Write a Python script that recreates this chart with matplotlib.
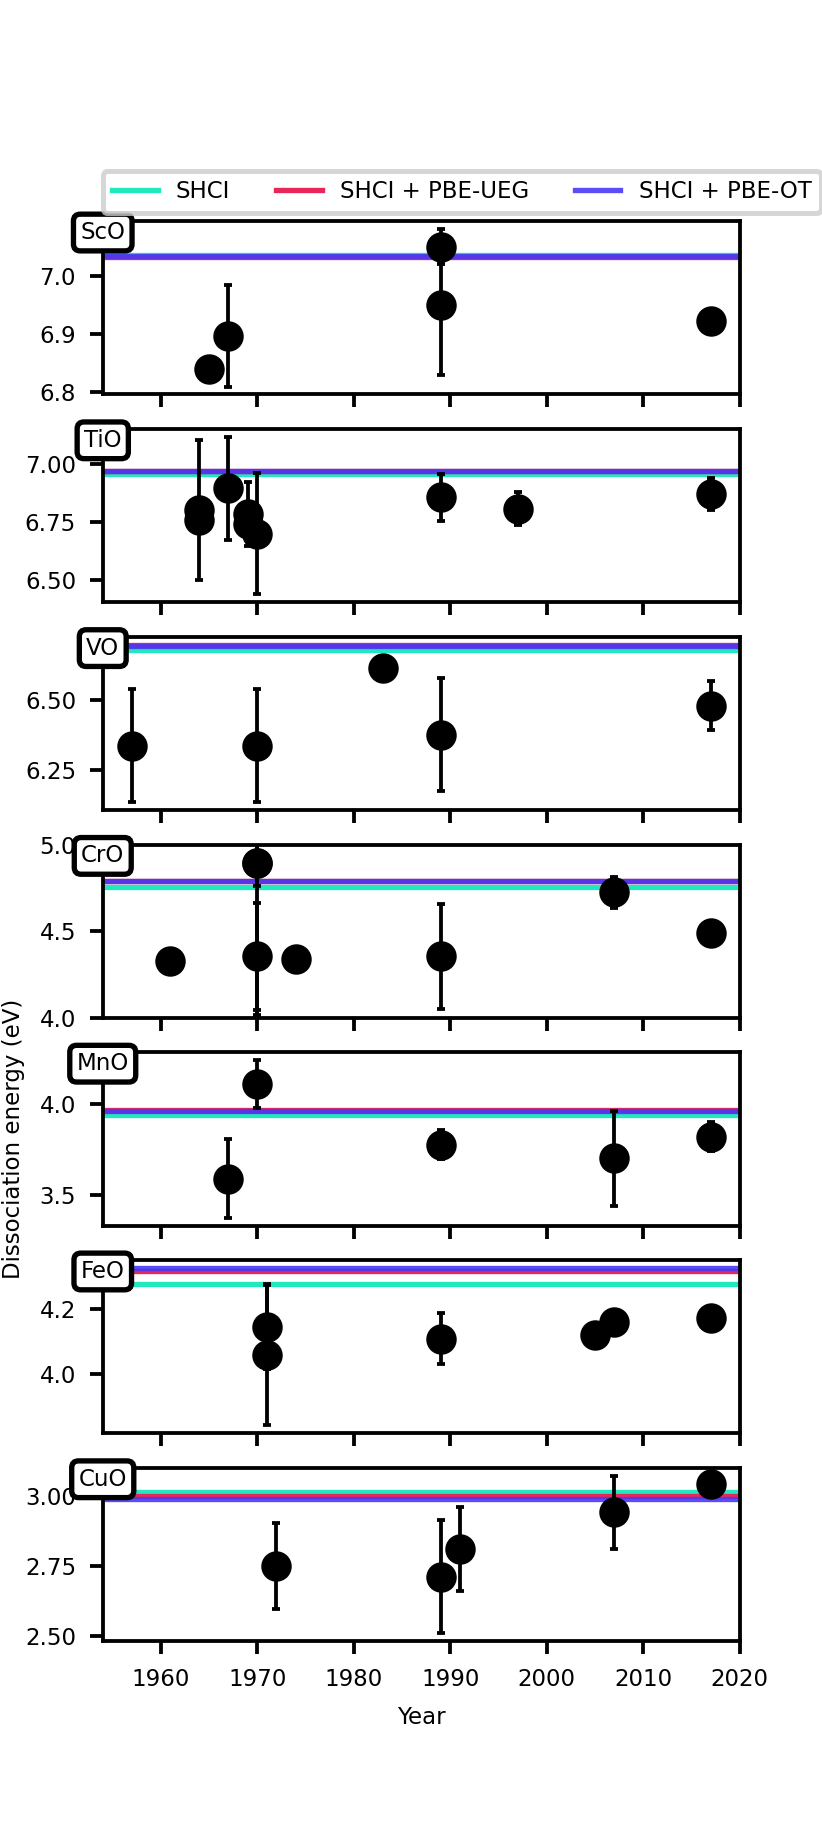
import matplotlib
matplotlib.use("Agg")
import matplotlib.pyplot as plt

# 分子ごとの実験値 (年, 解離エネルギー eV, 誤差)
molecules = ["ScO", "TiO", "VO", "CrO", "MnO", "FeO", "CuO"]

sco_year = [1965, 1967, 1989, 1989, 2017]
sco_de = [6.840, 6.897, 7.050, 6.950, 6.922]
sco_err = [0, 0.087, 0.030, 0.120, 0]

tio_year = [1964, 1964, 1967, 1969, 1969, 1970, 1989, 1997, 2017]
tio_de = [6.800, 6.757, 6.894, 6.786, 6.743, 6.700, 6.856, 6.807, 6.870]
tio_err = [0.30, 0, 0.22, 0.137, 0, 0.26, 0.10, 0.07, 0.07]

vo_year = [1957, 1970, 1983, 1989, 2017]
vo_de = [6.337, 6.337, 6.615, 6.377, 6.480]
vo_err = [0.20, 0.20, 0, 0.20, 0.087]

cro_year = [1961, 1970, 1970, 1970, 1974, 1989, 2007, 2017]
cro_de = [4.326, 4.893, 4.355, 4.893, 4.341, 4.355, 4.725, 4.491]
cro_err = [0, 0.13, 0.31, 0.877, 0, 0.305, 0.09, 0]

mno_year = [1967, 1970, 1989, 2007, 2017]
mno_de = [3.588, 4.109, 3.776, 3.699, 3.818]
mno_err = [0.216, 0.132, 0.08, 0.26, 0.08]

feo_year = [1971, 1971, 1989, 2005, 2007, 2017]
feo_de = [4.146, 4.059, 4.109, 4.121, 4.159, 4.172]
feo_err = [0.13, 0.22, 0.08, 0, 0, 0]

cuo_year = [1972, 1989, 1991, 2007, 2017]
cuo_de = [2.750, 2.712, 2.811, 2.941, 3.041]
cuo_err = [0.153, 0.202, 0.15, 0.13, 0]

# 計算値 (水平線)
shci = [7.035, 6.957, 6.679, 4.756, 3.938, 4.280, 3.014]
shci_ueg = [7.032, 6.967, 6.696, 4.790, 3.964, 4.320, 2.999]
shci_ot = [7.034, 6.968, 6.690, 4.788, 3.960, 4.328, 2.988]

years = [sco_year, tio_year, vo_year, cro_year, mno_year, feo_year, cuo_year]
values = [sco_de, tio_de, vo_de, cro_de, mno_de, feo_de, cuo_de]
errors = [sco_err, tio_err, vo_err, cro_err, mno_err, feo_err, cuo_err]

plt.rcParams["font.size"] = 6
plt.rcParams["axes.linewidth"] = 1.0
plt.rcParams["xtick.major.width"] = 1.0
plt.rcParams["ytick.major.width"] = 1.0

dpi = 274
fig, axes = plt.subplots(7, 1, sharex=True, figsize=(822.01 / dpi, 1844.01 / dpi), dpi=dpi)

for i, ax in enumerate(axes):
    ax.axhline(shci[i], color="#22E8BE", lw=1.4, label="SHCI")
    ax.axhline(shci_ueg[i], color="#E8265A", lw=1.4, label="SHCI + PBE-UEG")
    ax.axhline(shci_ot[i], color="#4838F5", lw=1.4, alpha=0.9, label="SHCI + PBE-OT")
    ax.errorbar(years[i], values[i], yerr=errors[i], fmt="o", color="k", ms=7,
                elinewidth=1.0, capsize=1, capthick=1.0)
    ax.text(0.0, 0.935, molecules[i], transform=ax.transAxes, ha="center", va="center",
            bbox=dict(boxstyle="round,pad=0.3", fc="white", ec="black", lw=1.4))

axes[3].set_ylim(4.0, 5.0)

leg = axes[0].legend(loc="lower left", bbox_to_anchor=(0, 1.05), ncol=3, borderaxespad=0)
leg.get_frame().set_linewidth(1.3)
axes[4].set_ylabel("Dissociation energy (eV)")
axes[4].yaxis.set_label_coords(-0.122, 0.5)
axes[6].set_xlabel("Year")

plt.savefig("out.png", dpi=dpi)
plt.close()
